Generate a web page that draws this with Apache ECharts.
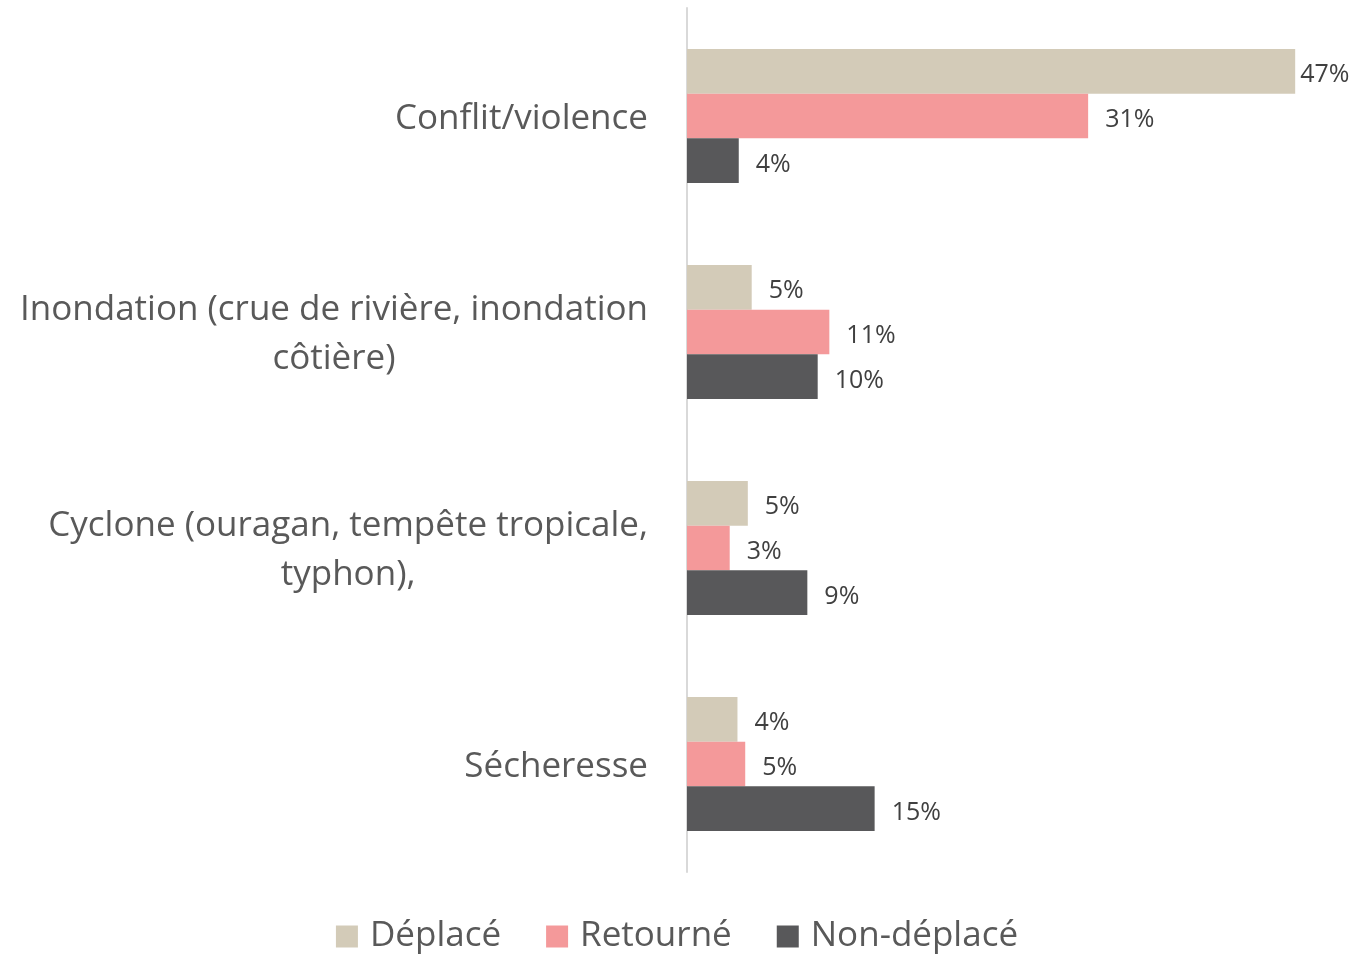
<!DOCTYPE html>
<html><head><meta charset="utf-8">
<script src="https://cdn.jsdelivr.net/npm/echarts@6/dist/echarts.min.js"></script>
<style>html,body{margin:0;padding:0;background:#fff}#c{width:1354px;height:955px}</style>
</head><body><div id="c"></div>
<script>
const categories = ["Conflit/violence", "Inondation (crue de rivière, inondation côtière)", "Cyclone (ouragan, tempête tropicale, typhon),", "Sécheresse"];
const seriesNames = ["Déplacé", "Retourné", "Non-déplacé"];
const deplace = [47.0, 5.0, 4.7, 3.9];
const retourne = [31.0, 11.0, 3.3, 4.5];
const nonDeplace = [4.0, 10.1, 9.3, 14.5];
const colors = ["#d3cbb8", "#f4999a", "#58585a"];

const FONT = "'Open Sans', 'Noto Sans', sans-serif";
const catSize = 35;
const ctx = document.createElement('canvas').getContext('2d');
ctx.font = catSize + "px " + FONT;
function wrap(s, maxW) {
  const words = s.split(' ');
  const lines = [];
  let cur = '';
  for (const w of words) {
    const t = cur ? cur + ' ' + w : w;
    if (cur && ctx.measureText(t).width > maxW) { lines.push(cur); cur = w; }
    else cur = t;
  }
  if (cur) lines.push(cur);
  return lines;
}

const chart = echarts.init(document.getElementById('c'), null, {renderer: 'canvas'});
const values = [deplace, retourne, nonDeplace];
const series = seriesNames.map((name, i) => ({
  name, type: 'bar', barGap: '0%', barCategoryGap: '38%',
  itemStyle: {color: colors[i]},
  label: {show: true, position: 'right', distance: 17, offset: [0, 4], color: '#404040', fontSize: 25, fontFamily: FONT,
    formatter: p => Math.round(p.value) + '%'},
  data: values[i].map(v => v > 45 ? {value: v, label: {distance: 5}} : v)
}));

chart.setOption({
  animation: false,
  textStyle: {fontFamily: FONT},
  legend: {
    data: seriesNames, bottom: -4, left: 'center', itemWidth: 22, itemHeight: 22, itemGap: 45,
    icon: 'rect', textStyle: {fontSize: 35, color: '#595959', fontFamily: FONT, padding: [0, 0, 0, 7]}
  },
  grid: {left: 687, top: 8, bottom: 83, right: 20, containLabel: false},
  xAxis: {type: 'value', min: 0, max: 50, show: false},
  yAxis: {
    type: 'category', inverse: true, data: categories,
    axisLine: {show: true, lineStyle: {color: '#d9d9d9', width: 2}},
    axisTick: {show: false},
    axisLabel: {
      margin: 39, fontSize: catSize, color: '#595959', fontFamily: FONT, lineHeight: 49, padding: [6, 0, 0, 0],
      formatter: v => wrap(v, 680).map(l => '{c|' + l + '}').join('\n'),
      rich: {c: {align: 'center', fontSize: catSize, color: '#595959', fontFamily: FONT, lineHeight: 49}}
    }
  },
  series
});
</script></body></html>
